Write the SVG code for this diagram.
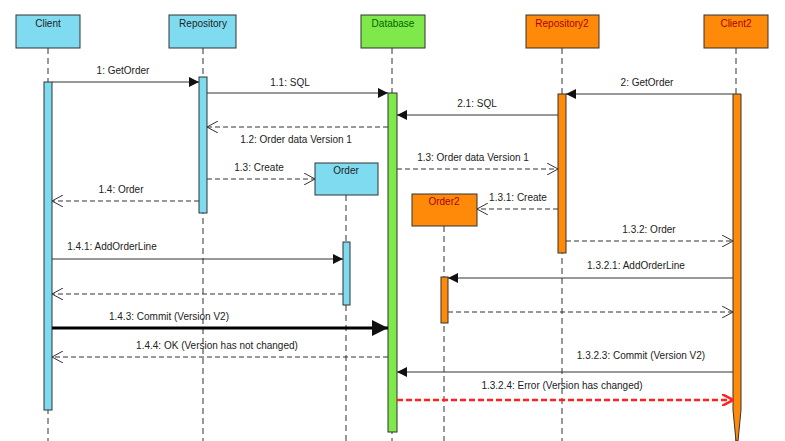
<svg xmlns="http://www.w3.org/2000/svg" width="785" height="441" viewBox="0 0 785 441">
<style>
text{font-family:"Liberation Sans",Arial,sans-serif;font-size:10px;fill:#222;text-anchor:middle}
.hb text{fill:#a00}
.life{stroke:#333;stroke-dasharray:6,4;stroke-width:1}
.box{stroke:#333;stroke-width:1}
.cy{fill:#7fdcf0}.gr{fill:#7fe84a}.or{fill:#ff8a0a}
.m{stroke:#333;stroke-width:1;fill:none}
.d{stroke-dasharray:5,3}
</style>
<defs>
<marker id="f" markerWidth="10" markerHeight="10" refX="10" refY="5" orient="auto" markerUnits="userSpaceOnUse"><path d="M0,0L10,5L0,10z" fill="#111"/></marker>
<marker id="fb" markerWidth="16" markerHeight="16" refX="16" refY="8" orient="auto" markerUnits="userSpaceOnUse"><path d="M0,0L16,8L0,16z" fill="#111"/></marker>
<marker id="o" markerWidth="12" markerHeight="12" refX="11" refY="6" orient="auto" markerUnits="userSpaceOnUse"><path d="M0,0L11,6L0,12" fill="none" stroke="#333"/></marker>
<marker id="r" markerWidth="12" markerHeight="12" refX="11" refY="6" orient="auto" markerUnits="userSpaceOnUse"><path d="M0,0L11,6L0,12" fill="none" stroke="#f22" stroke-width="2.5"/></marker>
</defs>
<g id="lifelines">
<line class="life" x1="48" y1="48" x2="48" y2="441"/>
<line class="life" x1="203" y1="48" x2="203" y2="441"/>
<line class="life" x1="392" y1="48" x2="392" y2="441"/>
<line class="life" x1="562" y1="48" x2="562" y2="441"/>
<line class="life" x1="736" y1="48" x2="736" y2="441"/>
<line class="life" x1="346" y1="195" x2="346" y2="441"/>
<line class="life" x1="444" y1="226" x2="444" y2="441"/>
</g>
<g id="client"><rect class="box cy" x="16" y="15" width="64" height="33"/><text x="48" y="27">Client</text><rect class="box cy" x="44" y="82" width="8" height="328"/></g>
<g id="repository"><rect class="box cy" x="169" y="15" width="67" height="33"/><text x="203" y="27">Repository</text><rect class="box cy" x="199" y="77" width="8" height="136"/></g>
<g id="database"><rect class="box gr" x="361" y="15" width="64" height="33"/><text x="393" y="27" style="fill:#060">Database</text><rect class="box gr" x="388" y="93" width="9" height="339"/></g>
<g id="repository2" class="hb"><rect class="box or" x="526" y="15" width="73" height="33"/><text x="562" y="27">Repository2</text><rect class="box or" x="558" y="94" width="8" height="159"/></g>
<g id="client2" class="hb"><rect class="box or" x="704" y="15" width="64" height="33"/><text x="736" y="27">Client2</text><path class="box or" d="M733,94H741V410L738,441H736L733,410Z"/></g>
<g id="order"><rect class="box cy" x="315" y="163" width="63" height="32"/><text x="346" y="174">Order</text><rect class="box cy" x="343" y="242" width="7" height="63"/></g>
<g id="order2" class="hb"><rect class="box or" x="412" y="194" width="65" height="32"/><text x="444" y="205">Order2</text><rect class="box or" x="441" y="277" width="7" height="46"/></g>
<g id="connectors">
<line class="m" x1="52" y1="82" x2="199" y2="82" marker-end="url(#f)"/><text x="123" y="74">1: GetOrder</text>
<line class="m" x1="207" y1="93" x2="388" y2="93" marker-end="url(#f)"/><text x="290" y="86">1.1: SQL</text>
<line class="m d" x1="388" y1="127" x2="207" y2="127" marker-end="url(#o)"/><text x="296" y="143">1.2: Order data Version 1</text>
<line class="m d" x1="207" y1="179" x2="315" y2="179" marker-end="url(#o)"/><text x="259" y="171">1.3: Create</text>
<line class="m d" x1="199" y1="201" x2="52" y2="201" marker-end="url(#o)"/><text x="121" y="193">1.4: Order</text>
<line class="m" x1="733" y1="94" x2="566" y2="94" marker-end="url(#f)"/><text x="647" y="86">2: GetOrder</text>
<line class="m" x1="558" y1="115" x2="397" y2="115" marker-end="url(#f)"/><text x="477" y="107">2.1: SQL</text>
<line class="m d" x1="397" y1="169" x2="558" y2="169" marker-end="url(#o)"/><text x="473" y="161">1.3: Order data Version 1</text>
<line class="m d" x1="558" y1="209" x2="477" y2="209" marker-end="url(#o)"/><text x="518" y="201">1.3.1: Create</text>
<line class="m d" x1="566" y1="241" x2="733" y2="241" marker-end="url(#o)"/><text x="649" y="233">1.3.2: Order</text>
<line class="m" x1="52" y1="259" x2="343" y2="259" marker-end="url(#f)"/><text x="112" y="250">1.4.1: AddOrderLine</text>
<line class="m d" x1="343" y1="294" x2="52" y2="294" marker-end="url(#o)"/>
<line class="m" x1="733" y1="278" x2="448" y2="278" marker-end="url(#f)"/><text x="636" y="269">1.3.2.1: AddOrderLine</text>
<line class="m d" x1="448" y1="312" x2="733" y2="312" marker-end="url(#o)"/>
<line class="m" style="stroke:#000;stroke-width:3" x1="52" y1="328" x2="388" y2="328" marker-end="url(#fb)"/><text x="169" y="320">1.4.3: Commit (Version V2)</text>
<line class="m d" x1="388" y1="357" x2="52" y2="357" marker-end="url(#o)"/><text x="217" y="349">1.4.4: OK (Version has not changed)</text>
<line class="m" x1="733" y1="372" x2="397" y2="372" marker-end="url(#f)"/><text x="641" y="359">1.3.2.3: Commit (Version V2)</text>
<line class="m" style="stroke:#f22;stroke-width:2.5;stroke-dasharray:6,3" x1="397" y1="400" x2="733" y2="400" marker-end="url(#r)"/><text x="562" y="389">1.3.2.4: Error (Version has changed)</text>
</g>
</svg>
